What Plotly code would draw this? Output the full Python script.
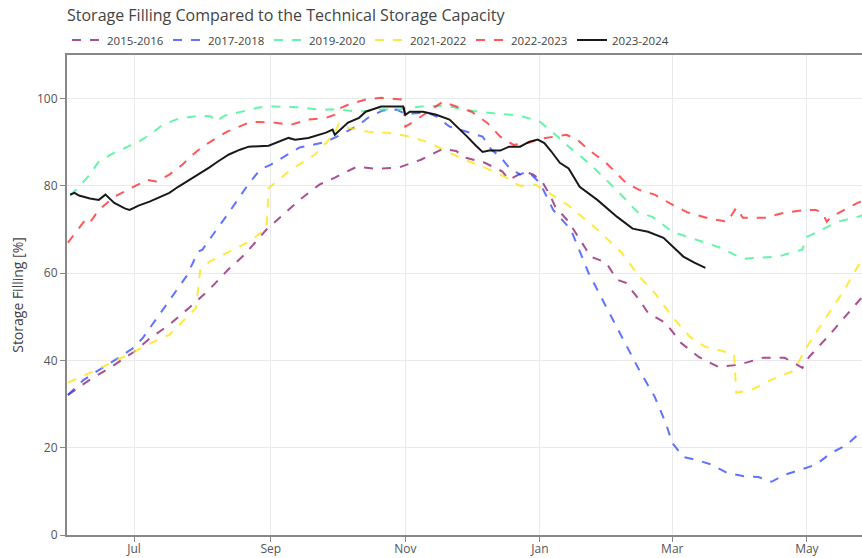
import plotly.graph_objects as go

# ---------------- data ----------------
season_labels = ["2015-2016", "2017-2018", "2019-2020", "2021-2022", "2022-2023", "2023-2024"]

dates_1516 = ["06-01","06-11","06-20","07-01","07-08","07-17","07-26","08-04","08-13","08-20","08-30","09-05","09-14","09-23","09-30","10-10","10-19","10-29","11-08","11-18","11-24","11-28","12-07","12-15","12-18","12-25","12-29","01-02","01-05","01-08","01-14","01-24","01-31","02-05","02-09","02-15","02-19","02-27","03-05","03-13","03-22","03-31","04-11","04-21","04-29","05-02","05-12","05-21","05-25","05-31"]
fill_1516 = [32.1,35.6,38.3,42.0,45.0,48.2,52.1,56.2,61.0,64.2,70.0,72.7,76.8,80.3,81.9,84.4,83.9,84.2,86.0,88.5,88.0,86.5,85.3,83.3,81.4,83.3,82.6,81.0,78.4,75.2,71.8,63.8,62.4,58.5,57.8,53.9,50.9,48.6,44.0,40.8,38.5,39.0,40.6,40.6,38.3,40.8,46.3,51.6,53.9,57.0]

dates_1718 = ["06-01","06-08","06-15","06-24","07-01","07-05","07-14","07-25","07-30","08-01","08-05","08-13","08-21","08-27","09-01","09-07","09-14","09-20","09-26","10-03","10-11","10-16","10-22","10-28","11-01","11-11","11-15","11-21","11-30","12-06","12-10","12-14","12-18","12-23","12-26","12-28","01-01","01-04","01-07","01-15","01-23","01-31","02-08","02-15","02-22","02-27","03-01","03-06","03-12","03-19","03-26","04-02","04-09","04-15","04-21","05-01","05-05","05-12","05-19","05-25","05-31"]
fill_1718 = [32.1,35.5,37.8,40.6,43.0,45.2,51.6,59.5,64.9,65.4,68.3,73.9,79.8,83.7,84.9,86.7,88.8,89.4,90.1,91.8,94.0,96.0,97.3,97.5,96.5,96.8,95.9,93.6,92.2,91.3,88.3,86.7,84.2,82.6,83.3,82.6,80.7,77.5,74.5,70.0,60.1,52.3,44.7,37.8,31.7,25.7,21.1,17.9,17.2,16.1,14.2,13.5,13.3,12.2,13.8,15.4,16.1,18.8,20.6,23.4,25.0]

dates_1920 = ["06-02","06-06","06-11","06-15","06-22","06-27","07-03","07-08","07-14","07-21","07-31","08-05","08-07","08-11","08-18","08-27","09-02","09-14","09-23","10-02","10-11","10-20","10-29","11-08","11-19","12-01","12-12","12-23","01-01","01-07","01-14","01-23","01-31","02-06","02-14","02-21","03-01","03-12","03-23","04-02","04-18","04-24","04-29","05-01","05-08","05-15","05-24","05-31"]
fill_1920 = [77.8,79.8,82.6,85.6,87.6,88.8,90.1,91.7,94.0,95.4,96.1,95.9,94.7,96.1,97.0,98.0,98.2,98.0,97.5,97.5,97.0,97.5,97.5,98.2,98.4,97.2,96.6,96.1,94.7,92.2,89.0,85.3,81.4,78.4,74.1,72.9,69.5,67.7,65.8,63.3,63.8,64.7,65.4,68.3,70.0,71.8,72.9,74.0]

dates_2122 = ["06-01","06-15","07-01","07-08","07-17","07-26","07-29","07-31","08-04","08-13","08-22","08-30","08-31","09-10","09-21","09-26","09-30","10-02","10-06","10-15","10-24","11-03","11-12","11-21","11-28","12-07","12-16","12-23","12-30","01-05","01-14","01-27","02-07","02-15","02-22","03-01","03-09","03-16","03-25","03-29","03-30","04-06","04-15","04-24","04-27","05-01","05-06","05-12","05-18","05-24","05-31"]
fill_2122 = [34.9,38.1,42.0,43.8,45.9,50.5,52.0,60.8,62.6,64.9,67.2,70.2,79.5,83.7,87.2,89.9,92.2,94.5,93.3,92.4,92.2,91.3,89.9,87.6,86.0,84.2,82.1,80.0,80.3,78.4,75.5,70.0,64.7,59.2,55.5,50.0,45.4,43.1,42.0,41.5,32.6,33.3,35.6,37.4,39.4,43.1,47.0,51.6,56.2,61.5,66.0]

dates_2223 = ["06-01","06-06","06-09","06-11","06-15","06-22","07-01","07-07","07-11","07-17","07-23","07-26","08-01","08-12","08-23","09-03","09-10","09-18","09-26","09-30","10-01","10-06","10-14","10-21","10-31","11-01","11-04","11-11","11-15","11-18","11-24","12-01","12-08","12-14","12-20","12-27","01-01","01-07","01-13","01-18","01-23","01-31","02-06","02-09","02-15","02-22","03-01","03-08","03-18","03-26","03-28","03-30","04-02","04-12","04-21","05-01","05-05","05-08","05-10","05-12","05-18","05-24","05-31"]
fill_2223 = [67.0,70.4,72.3,71.6,74.5,77.5,79.8,81.4,81.0,82.6,84.9,86.5,89.0,92.4,94.7,94.5,94.0,95.2,95.6,96.3,97.5,98.6,99.8,100.2,99.8,93.6,94.5,96.8,98.2,99.3,98.2,97.0,94.5,91.3,89.4,89.9,90.8,91.3,91.7,90.6,88.3,85.3,82.1,80.7,79.1,78.0,75.7,73.9,72.5,71.8,73.4,75.0,72.7,72.7,73.9,74.5,74.5,73.9,71.8,72.9,74.5,76.1,77.5]

dates_2324 = ["06-02","06-04","06-06","06-11","06-15","06-18","06-22","06-27","06-29","07-03","07-08","07-12","07-17","07-21","07-26","07-31","08-04","08-08","08-13","08-18","08-22","08-31","09-09","09-12","09-18","09-26","09-29","09-30","10-02","10-06","10-11","10-14","10-21","10-31","11-01","11-03","11-09","11-15","11-21","11-26","11-29","12-03","12-06","12-09","12-14","12-18","12-23","12-27","12-31","01-03","01-06","01-10","01-14","01-19","01-27","02-05","02-12","02-19","02-26","03-06","03-11","03-16"]
fill_2324 = [78.0,78.4,77.8,77.1,76.8,78.0,76.1,74.8,74.5,75.5,76.4,77.3,78.4,79.8,81.4,82.8,84.2,85.6,87.2,88.3,89.0,89.2,91.0,90.6,91.0,92.2,92.9,91.7,92.7,94.5,95.6,97.0,98.2,98.2,96.3,97.0,97.0,96.3,95.2,92.9,91.3,89.2,87.8,88.1,88.1,89.0,89.0,90.1,90.6,89.8,88.0,85.3,84.0,79.8,76.8,72.9,70.2,69.5,68.1,63.8,62.4,61.2]

x_tick_vals = ["2023-07-01", "2023-09-01", "2023-11-01", "2024-01-01", "2024-03-01", "2024-05-01"]
x_tick_text = ["Jul", "Sep", "Nov", "Jan", "Mar", "May"]
y_tick_vals = [0, 20, 40, 60, 80, 100]

# ---------------- build ----------------
def to_dates(md_list):
    out = []
    for md in md_list:
        m = int(md[:2])
        yr = 2023 if m >= 6 else 2024
        out.append(f"{yr}-{md}")
    return out

series = [
    (dates_1516, fill_1516, "rgba(140,20,110,0.75)", "dash"),
    (dates_1718, fill_1718, "rgba(40,70,255,0.75)", "dash"),
    (dates_1920, fill_1920, "rgba(50,240,140,0.75)", "dash"),
    (dates_2122, fill_2122, "rgba(255,225,0,0.75)", "dash"),
    (dates_2223, fill_2223, "rgba(255,30,30,0.75)", "dash"),
    (dates_2324, fill_2324, "rgba(0,0,0,0.9)", "solid"),
]

fig = go.Figure()
for (d, v, col, dash), name in zip(series, season_labels):
    fig.add_trace(go.Scatter(
        x=to_dates(d), y=v, name=name, mode="lines",
        line=dict(color=col, width=2, dash=dash),
    ))

fig.update_layout(
    width=862, height=558,
    margin=dict(l=67, r=0, t=55, b=23, autoexpand=False),
    paper_bgcolor="white", plot_bgcolor="white",
    font=dict(family="Open Sans", size=12, color="#555"),
    title=dict(text="Storage Filling Compared to the Technical Storage Capacity",
               x=67/862, xanchor="left", y=1-15/558, yanchor="middle",
               font=dict(size=16, color="#444")),
    legend=dict(orientation="h", x=0, xanchor="left", y=1.031, yanchor="middle",
                entrywidth=56, entrywidthmode="pixels",
                font=dict(size=11.5, color="#444"), bgcolor="rgba(0,0,0,0)"),
    showlegend=True,
)
fig.update_xaxes(
    automargin=False,
    range=["2023-05-31 14:00", "2024-05-26 00:00"],
    tickvals=x_tick_vals, ticktext=x_tick_text,
    showgrid=True, gridcolor="#eaeaea", gridwidth=1,
    showline=True, linecolor="#888", linewidth=2, mirror=True,
    ticks="outside", ticklen=5, tickcolor="#888",
    ticklabelstandoff=-3,
    zeroline=False,
)
fig.update_yaxes(
    automargin=False,
    range=[0, 110], tickvals=y_tick_vals,
    title=dict(text="Storage Filling [%]", font=dict(size=14, color="#444"), standoff=10),
    showgrid=True, gridcolor="#eaeaea", gridwidth=1,
    showline=True, linecolor="#888", linewidth=2,
    ticks="outside", ticklen=5, tickcolor="#888",
    zeroline=False,
)

fig.write_html("out.html", config={"displayModeBar": False},
               post_script="document.body.style.margin='0px';document.body.style.overflow='hidden';")
